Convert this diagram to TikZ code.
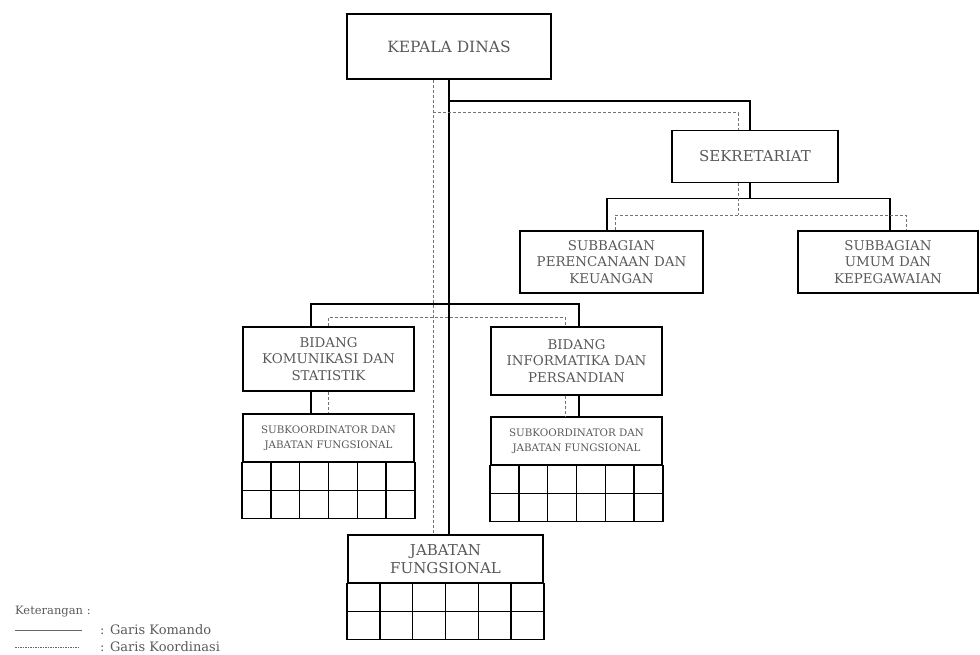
\documentclass[tikz,border=0pt]{standalone}
\usepackage{fontspec}
\setmainfont{DejaVu Serif}
\usetikzlibrary{calc}

\begin{document}
\begin{tikzpicture}[x=1pt,y=-1pt,
    unit/.style={draw=black,line width=1.6pt,align=center,text=black!65,inner sep=1pt,
        font=\fontsize{13.4}{16.5}\selectfont},
    subunit/.style={unit,font=\fontsize{10.3}{15}\selectfont},
    cmd/.style={draw=black,line width=1.5pt},
    koor/.style={draw=black!55,line width=0.9pt,dash pattern=on 3pt off 2pt},
    legtxt/.style={text=black!65,font=\fontsize{13}{15}\selectfont,inner sep=0pt,anchor=west}]
    \useasboundingbox (0,0) rectangle (980,655);
    \node[unit,minimum width=204,minimum height=65,font=\fontsize{15.5}{18}\selectfont] (kepala) at (449,46.5) {KEPALA DINAS};
    \node[unit,minimum width=166,minimum height=52,font=\fontsize{15}{18}\selectfont] (sekre) at (755,156.5) {SEKRETARIAT};
    \node[unit,minimum width=183,minimum height=62] (subren) at (611.5,262) {SUBBAGIAN\\PERENCANAAN DAN\\KEUANGAN};
    \node[unit,minimum width=180,minimum height=62] (subumum) at (888,262) {SUBBAGIAN\\UMUM DAN\\KEPEGAWAIAN};
    \node[unit,minimum width=171,minimum height=64] (bidkom) at (328.5,359) {BIDANG\\KOMUNIKASI DAN\\STATISTIK};
    \node[unit,minimum width=171,minimum height=68] (bidinf) at (576.5,361) {BIDANG\\INFORMATIKA DAN\\PERSANDIAN};
    \node[subunit,minimum width=171,minimum height=48,anchor=north] (subkom) at (328.5,413) {SUBKOORDINATOR DAN\\JABATAN FUNGSIONAL};
    \node[subunit,minimum width=171,minimum height=48,anchor=north] (subinf) at (576.5,416) {SUBKOORDINATOR DAN\\JABATAN FUNGSIONAL};
    \node[unit,minimum width=195,minimum height=48,anchor=north,font=\fontsize{15}{18}\selectfont] (jabfung) at (445.5,534) {JABATAN\\FUNGSIONAL};
    \foreach \t in {subkom,subinf,jabfung} {
        \draw[cmd] (\t.south west) rectangle ([yshift=-56]\t.south east);
        \draw[cmd] ([yshift=-28]\t.south west) -- ([yshift=-28]\t.south east);
        \foreach \i in {1,...,5}
        \draw[cmd] ($(\t.south west)!\i/6!(\t.south east)$) -- ++(0,56);
    }
    \draw[cmd] (kepala.south) -- (kepala.south |- jabfung.north);
    \draw[koor] ([xshift=-16]kepala.south) -- ([xshift=-16]kepala.south |- jabfung.north);
    \draw[cmd] (kepala.south) ++(0,21) -| ([xshift=-5]sekre.north);
    \draw[koor] ([xshift=-16]kepala.south) ++(0,33) -| ([xshift=-17]sekre.north);
    \coordinate (sbar) at ([yshift=-15]sekre.south);
    \coordinate (sdash) at ([yshift=-32]sekre.south);
    \draw[cmd] ([xshift=-5]sekre.south) -- ([xshift=-5]sbar);
    \draw[cmd] ([xshift=-4.5]subren.north) |- (sbar) -| ([xshift=2]subumum.north);
    \draw[koor] ([xshift=-17]sekre.south) -- ([xshift=-17]sdash);
    \draw[koor] ([xshift=3.5]subren.north) |- (sdash) -| ([xshift=18]subumum.north);
    \draw[cmd] ([xshift=-17.5]bidkom.north) |- ([yshift=22]bidkom.north) -| ([xshift=2.5]bidinf.north);
    \draw[koor] (bidkom.north) |- ([yshift=9]bidkom.north) -| ([xshift=-11.5]bidinf.north);
    \draw[cmd] ([xshift=-17.5]bidkom.south) -- ([xshift=-17.5]subkom.north);
    \draw[koor] (bidkom.south) -- (subkom.north);
    \draw[cmd] ([xshift=2.5]bidinf.south) -- ([xshift=2.5]subinf.north);
    \draw[koor] ([xshift=-11.5]bidinf.south) -- ([xshift=-11.5]subinf.north);
    \node[legtxt,font=\fontsize{11.5}{14}\selectfont] (ket) at (15,612) {Keterangan :};
    \node[legtxt] (kom) at (100,630) {: Garis Komando};
    \node[legtxt] (kor) at (100,647) {: Garis Koordinasi};
    \draw[draw=black!60,line width=0.6pt] ([xshift=-85]kom.west) -- ([xshift=-18]kom.west);
    \draw[draw=black!60,line width=0.6pt,dash pattern=on 1.5pt off 1pt] ([xshift=-85]kor.west) -- ([xshift=-22]kor.west);
\end{tikzpicture}
\end{document}
